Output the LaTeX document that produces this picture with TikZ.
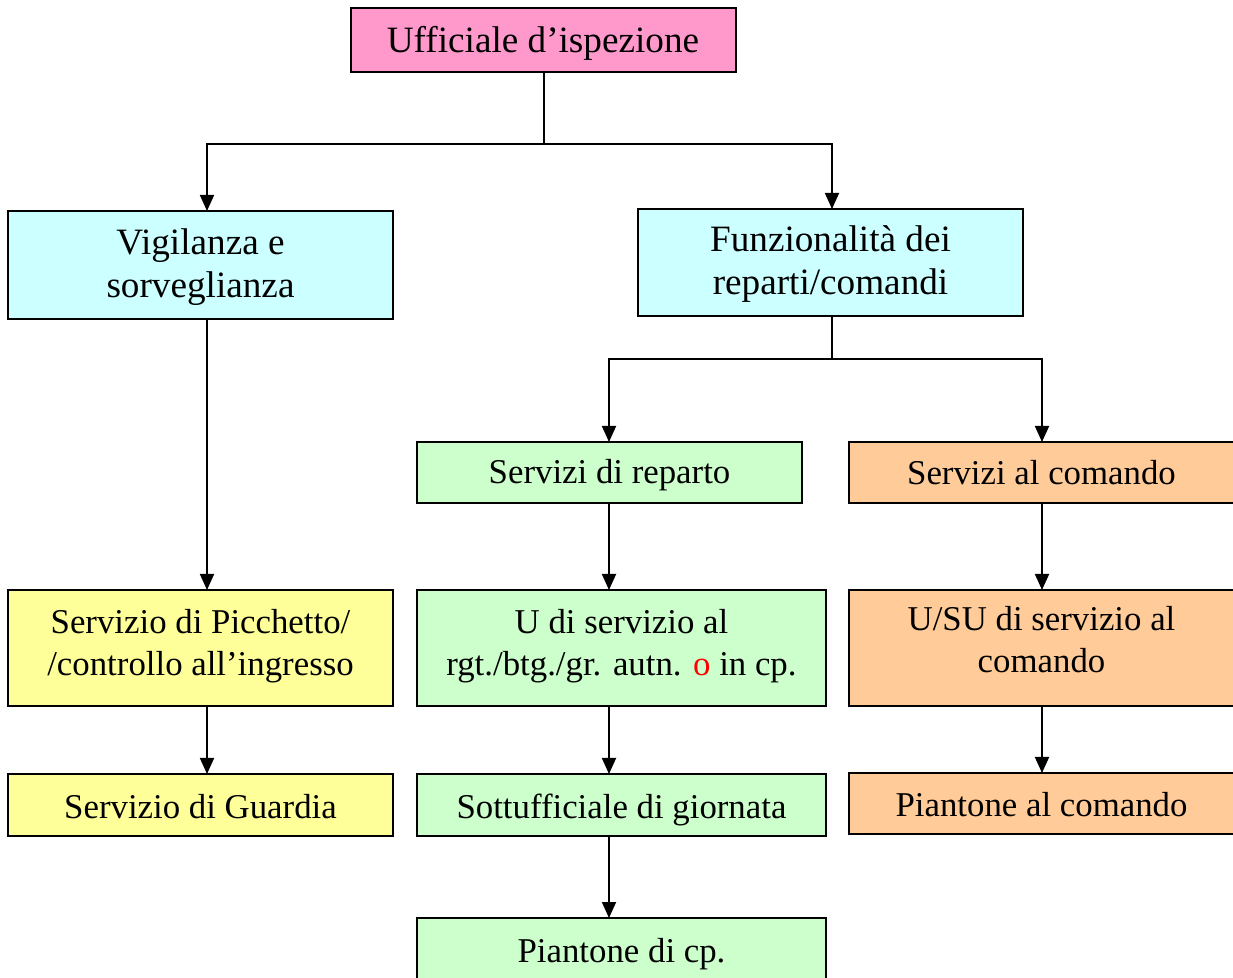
\documentclass[tikz,border=0pt]{standalone}
\usepackage{fontspec}
\setmainfont{Liberation Serif}
\usetikzlibrary{arrows.meta}
\definecolor{cpink}{HTML}{FF99CC}
\definecolor{ccyan}{HTML}{CCFFFF}
\definecolor{cgreen}{HTML}{CCFFCC}
\definecolor{corange}{HTML}{FFCC99}
\definecolor{cyellow}{HTML}{FFFF99}
\begin{document}
\begin{tikzpicture}[x=0.5pt,y=-0.5pt,
  box/.style={draw=black,line width=1pt,inner sep=0pt,outer sep=0pt,align=center,text=black},
  big/.style={font=\fontsize{18.6}{21.5}\selectfont},
  small/.style={font=\fontsize{17.4}{21}\selectfont},
  down/.style={text height=#1,text depth=0pt},
  w1/.style={minimum width=192.5pt},
  w2/.style={minimum width=204.5pt},
  arr/.style={line width=0.9pt,-{Triangle[length=8pt,width=7pt]}},
  ln/.style={line width=0.9pt}]
\useasboundingbox (0,0) rectangle (1233,978);
\clip (0,0) rectangle (1233,978);
\node[box,big,w1,fill=cpink,minimum height=32pt,down=13pt] (uff) at (543,40) {Ufficiale d’ispezione};
\node[box,big,w1,fill=ccyan,minimum height=54pt,down=33pt] (vig) at (200.5,265) {Vigilanza e\\sorveglianza};
\node[box,big,w1,fill=ccyan,minimum height=53.5pt,down=32.5pt] (fun) at (830.5,262.5) {Funzionalità dei\\reparti/comandi};
\node[box,small,w1,fill=cgreen,minimum height=30.5pt,down=11.5pt] (rep) at (609.5,472.5) {Servizi di reparto};
\node[box,small,w1,fill=corange,minimum height=30.5pt,down=12.5pt] (com) at (1041.5,472.5) {Servizi al comando};
\node[box,small,w1,fill=cyellow,minimum height=58pt,down=28pt] (pic) at (200.5,648) {Servizio di Picchetto/\\/controllo all’ingresso};
\node[box,small,w2,fill=cgreen,minimum height=58pt,down=28pt] (usv) at (621.5,648) {U di servizio al\\rgt./btg./gr. autn. \textcolor{red}{o} in cp.};
\node[box,small,w1,fill=corange,minimum height=58pt,down=25pt] (usu) at (1041.5,648) {U/SU di servizio al\\comando};
\node[box,small,w1,fill=cyellow,minimum height=31pt,down=14pt] (gua) at (200.5,805) {Servizio di Guardia};
\node[box,small,w2,fill=cgreen,minimum height=31pt,down=13.5pt] (sot) at (621.5,805) {Sottufficiale di giornata};
\node[box,small,w1,fill=corange,minimum height=30.5pt,down=13pt] (pia) at (1041.5,803.5) {Piantone al comando};
\node[box,small,w2,fill=cgreen,minimum height=30.5pt,down=13.5pt] (pcp) at (621.5,948.5) {Piantone di cp.};
% connectors
\coordinate (j1) at (544,144);
\coordinate (xa) at (207,144);
\coordinate (xb) at (832,144);
\coordinate (j2) at (832,359);
\coordinate (xc) at (609,359);
\coordinate (xd) at (1042,359);
\draw[ln] (uff.south -| j1) -- (j1);
\draw[arr] (j1) -- (xa) -- (xa |- vig.north);
\draw[arr] (j1) -- (xb) -- (xb |- fun.north);
\draw[ln] (fun.south -| j2) -- (j2);
\draw[arr] (j2) -- (xc) -- (xc |- rep.north);
\draw[arr] (j2) -- (xd) -- (xd |- com.north);
\draw[arr] (vig.south -| xa) -- (pic.north -| xa);
\draw[arr] (rep.south -| xc) -- (usv.north -| xc);
\draw[arr] (com.south -| xd) -- (usu.north -| xd);
\draw[arr] (pic.south -| xa) -- (gua.north -| xa);
\draw[arr] (usv.south -| xc) -- (sot.north -| xc);
\draw[arr] (usu.south -| xd) -- (pia.north -| xd);
\draw[arr] (sot.south -| xc) -- (pcp.north -| xc);
\end{tikzpicture}
\end{document}
